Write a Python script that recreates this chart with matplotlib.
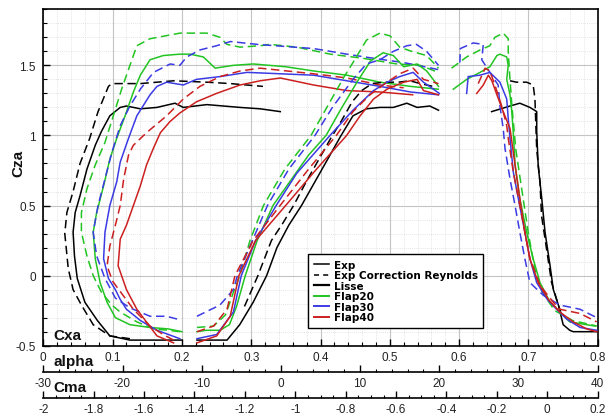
import matplotlib
matplotlib.use("Agg")
import matplotlib.pyplot as plt
from matplotlib.lines import Line2D
from matplotlib.ticker import MultipleLocator, FuncFormatter

plt.rcParams['font.family'] = ['Liberation Sans', 'DejaVu Sans']

# ---- polaire : Cza = f(Cxa) ----
polar_exp_cxa = [0.200, 0.160, 0.125, 0.096, 0.078, 0.060, 0.049, 0.045, 0.043, 0.046, 0.053, 0.063,
                 0.075, 0.084, 0.096, 0.111, 0.120, 0.140, 0.164, 0.190, 0.202, 0.236, 0.284, 0.313, 0.342]
polar_exp_cza = [-0.46, -0.46, -0.46, -0.43, -0.32, -0.19, -0.02, 0.14, 0.31, 0.45, 0.57, 0.76,
                 0.93, 1.03, 1.14, 1.20, 1.21, 1.19, 1.20, 1.23, 1.20, 1.22, 1.20, 1.19, 1.17]
polar_exp_re_cxa = [0.125, 0.096, 0.072, 0.055, 0.043, 0.036, 0.031, 0.034, 0.043, 0.053, 0.067, 0.079,
                    0.094, 0.099, 0.140, 0.188, 0.236, 0.270, 0.317]
polar_exp_re_cza = [-0.45, -0.43, -0.35, -0.21, -0.10, 0.05, 0.30, 0.45, 0.60, 0.80, 0.98, 1.17,
                    1.35, 1.37, 1.37, 1.39, 1.38, 1.37, 1.35]
polar_f20_cxa = [0.200, 0.180, 0.154, 0.125, 0.104, 0.092, 0.082, 0.075, 0.072, 0.077, 0.087, 0.096,
                 0.106, 0.118, 0.130, 0.140, 0.154, 0.173, 0.197, 0.212, 0.231, 0.248, 0.274, 0.303,
                 0.350, 0.390, 0.438, 0.486, 0.530, 0.570]
polar_f20_cza = [-0.40, -0.38, -0.37, -0.35, -0.30, -0.19, -0.05, 0.12, 0.31, 0.45, 0.64, 0.83,
                 0.98, 1.14, 1.31, 1.43, 1.54, 1.57, 1.58, 1.58, 1.56, 1.48, 1.50, 1.51,
                 1.49, 1.46, 1.43, 1.38, 1.35, 1.33]
polar_f20_re_cxa = [0.197, 0.180, 0.159, 0.135, 0.111, 0.099, 0.084, 0.072, 0.063, 0.055, 0.055, 0.063,
                    0.075, 0.089, 0.101, 0.113, 0.125, 0.135, 0.154, 0.197, 0.236, 0.255, 0.265, 0.284,
                    0.313, 0.327, 0.366, 0.414, 0.462, 0.510, 0.544, 0.570]
polar_f20_re_cza = [-0.40, -0.39, -0.38, -0.33, -0.26, -0.21, -0.12, 0.00, 0.14, 0.31, 0.45, 0.62,
                    0.79, 0.95, 1.14, 1.33, 1.50, 1.64, 1.69, 1.73, 1.73, 1.70, 1.65, 1.63,
                    1.64, 1.65, 1.63, 1.58, 1.55, 1.51, 1.50, 1.45]
polar_f30_cxa = [0.197, 0.164, 0.140, 0.120, 0.111, 0.104, 0.094, 0.087, 0.089, 0.096, 0.106, 0.111,
                 0.123, 0.135, 0.154, 0.164, 0.178, 0.202, 0.221, 0.255, 0.294, 0.342, 0.390, 0.438,
                 0.486, 0.530, 0.570]
polar_f30_cza = [-0.45, -0.39, -0.32, -0.24, -0.17, -0.10, -0.02, 0.12, 0.31, 0.50, 0.67, 0.81,
                 0.98, 1.14, 1.29, 1.35, 1.38, 1.36, 1.40, 1.42, 1.45, 1.44, 1.43, 1.39,
                 1.35, 1.31, 1.29]
polar_f30_re_cxa = [0.193, 0.178, 0.154, 0.125, 0.104, 0.089, 0.077, 0.072, 0.079, 0.089, 0.099, 0.111,
                    0.125, 0.140, 0.159, 0.183, 0.197, 0.207, 0.226, 0.250, 0.270, 0.308, 0.390, 0.438,
                    0.477, 0.520, 0.570]
polar_f30_re_cza = [-0.31, -0.29, -0.29, -0.23, -0.16, -0.02, 0.14, 0.31, 0.50, 0.69, 0.88, 1.07,
                    1.21, 1.33, 1.45, 1.51, 1.50, 1.56, 1.61, 1.64, 1.67, 1.65, 1.62, 1.58,
                    1.55, 1.52, 1.47]
polar_f40_cxa = [0.188, 0.164, 0.135, 0.120, 0.108, 0.111, 0.120, 0.130, 0.140, 0.149, 0.159, 0.169,
                 0.183, 0.197, 0.221, 0.250, 0.284, 0.313, 0.342, 0.390, 0.438, 0.486, 0.533]
polar_f40_cza = [-0.48, -0.43, -0.24, -0.10, 0.07, 0.26, 0.36, 0.50, 0.64, 0.79, 0.91, 1.02,
                 1.10, 1.16, 1.24, 1.30, 1.36, 1.39, 1.41, 1.36, 1.32, 1.31, 1.29]
polar_f40_re_cxa = [0.188, 0.173, 0.154, 0.130, 0.115, 0.100, 0.092, 0.096, 0.104, 0.111, 0.116, 0.123,
                    0.130, 0.149, 0.178, 0.202, 0.226, 0.255, 0.284, 0.313, 0.390, 0.438, 0.486, 0.520]
polar_f40_re_cza = [-0.46, -0.42, -0.36, -0.24, -0.14, -0.04, 0.07, 0.21, 0.36, 0.50, 0.69, 0.86,
                    0.93, 1.02, 1.14, 1.26, 1.35, 1.42, 1.46, 1.48, 1.44, 1.41, 1.36, 1.34]

# ---- portance : Cza = f(alpha) ----
lift_exp_alpha = [-10.6, -6.8, -5.2, -3.5, -1.8, -0.5, 1.0, 2.6, 4.2, 5.9, 7.6, 9.1, 10.8, 12.5,
                  14.2, 15.9, 17.2, 18.8, 19.9]
lift_exp_cza = [-0.46, -0.46, -0.35, -0.19, 0.00, 0.20, 0.36, 0.50, 0.66, 0.83, 1.00, 1.14, 1.19, 1.20,
                1.20, 1.23, 1.20, 1.21, 1.18]
lift_exp_re_alpha = [-4.6, -2.9, -1.2, 0.2, 1.6, 3.2, 4.8, 6.3, 7.6, 9.0, 10.2, 11.5, 13.0, 14.8,
                     16.3, 17.6, 19.2]
lift_exp_re_cza = [-0.22, 0.00, 0.25, 0.37, 0.50, 0.67, 0.83, 0.98, 1.10, 1.24, 1.32, 1.37, 1.38, 1.38,
                   1.39, 1.37, 1.35]
lift_f20_alpha = [-10.6, -9.4, -7.7, -6.5, -5.6, -4.5, -3.0, -1.0, 1.5, 3.5, 5.7, 7.5, 9.6, 11.3,
                  12.9, 14.2, 15.5, 17.2, 18.4, 19.9]
lift_f20_cza = [-0.40, -0.39, -0.39, -0.35, -0.22, 0.00, 0.25, 0.50, 0.70, 0.86, 1.00, 1.18, 1.38, 1.53,
                1.59, 1.57, 1.49, 1.51, 1.46, 1.35]
lift_f20_re_alpha = [-10.6, -8.5, -7.0, -6.0, -5.2, -3.9, -2.2, 0.5, 3.8, 6.0, 8.0, 9.1, 10.8, 12.5,
                     13.8, 15.0, 16.5, 18.4, 19.9]
lift_f20_re_cza = [-0.37, -0.36, -0.28, -0.12, 0.00, 0.25, 0.50, 0.76, 1.00, 1.22, 1.42, 1.52, 1.68, 1.73,
                   1.71, 1.63, 1.60, 1.57, 1.48]
lift_f30_alpha = [-10.6, -8.1, -6.0, -5.0, -3.2, -0.6, 2.0, 6.2, 9.1, 11.7, 13.4, 15.0, 16.7, 18.0, 20.0]
lift_f30_cza = [-0.45, -0.42, -0.26, 0.00, 0.25, 0.50, 0.73, 1.00, 1.18, 1.32, 1.38, 1.42, 1.45, 1.38, 1.30]
lift_f30_re_alpha = [-10.6, -7.7, -6.0, -5.5, -3.6, -1.7, 1.0, 4.3, 6.5, 9.1, 10.8, 12.5, 14.2, 15.9,
                     17.1, 18.4, 19.9]
lift_f30_re_cza = [-0.29, -0.21, -0.10, 0.00, 0.25, 0.50, 0.76, 1.00, 1.20, 1.40, 1.51, 1.54, 1.60, 1.64,
                   1.65, 1.60, 1.50]
lift_f40_alpha = [-10.6, -8.1, -6.4, -5.3, -3.2, 0.6, 4.5, 8.3, 10.0, 11.7, 13.4, 15.5, 17.2, 18.0, 19.9]
lift_f40_cza = [-0.48, -0.43, -0.29, 0.00, 0.25, 0.50, 0.76, 1.00, 1.14, 1.26, 1.33, 1.38, 1.40, 1.32, 1.29]
lift_f40_re_alpha = [-10.6, -8.5, -6.8, -5.8, -3.5, -0.1, 3.5, 7.0, 9.1, 11.25, 13.4, 15.0, 16.7,
                     18.0, 19.9]
lift_f40_re_cza = [-0.40, -0.36, -0.24, 0.00, 0.25, 0.50, 0.76, 1.00, 1.17, 1.29, 1.38, 1.44, 1.48,
                   1.40, 1.37]

# ---- moment : Cza = f(Cma) ----
mom_exp_cma = [-0.221, -0.148, -0.109, -0.069, -0.042, -0.042, -0.036, -0.022, -0.009, 0.011, 0.024,
               0.044, 0.063, 0.089, 0.103, 0.196]
mom_exp_cza = [1.17, 1.21, 1.23, 1.20, 1.17, 1.03, 0.78, 0.55, 0.31, 0.07, -0.10,
               -0.21, -0.35, -0.39, -0.40, -0.40]
mom_exp_re_cma = [-0.148, -0.122, -0.082, -0.056, -0.049, -0.045, -0.042, -0.029, -0.023, -0.003,
                  0.017, 0.037, 0.060]
mom_exp_re_cza = [1.39, 1.38, 1.38, 1.36, 1.26, 1.05, 0.90, 0.67, 0.43, 0.19, -0.05, -0.17, -0.30]
mom_f20_cma = [-0.373, -0.320, -0.267, -0.228, -0.200, -0.188, -0.161, -0.155, -0.161, -0.148, -0.141,
               -0.135, -0.128, -0.109, -0.082, -0.056, -0.029, 0.011, 0.050, 0.089, 0.156, 0.189]
mom_f20_cza = [1.33, 1.40, 1.45, 1.49, 1.57, 1.58, 1.56, 1.50, 1.40, 1.29, 1.17,
               1.02, 0.79, 0.55, 0.31, 0.12, -0.05, -0.19, -0.26, -0.33, -0.35, -0.36]
mom_f20_re_cma = [-0.380, -0.320, -0.267, -0.228, -0.208, -0.175, -0.155, -0.155, -0.150, -0.140,
                  -0.125, -0.100, -0.075, -0.050, -0.020, 0.030, 0.100, 0.197]
mom_f20_re_cza = [1.48, 1.56, 1.61, 1.64, 1.70, 1.73, 1.69, 1.60, 1.45, 1.20,
                  0.90, 0.60, 0.30, 0.05, -0.12, -0.25, -0.32, -0.36]
mom_f30_cma = [-0.320, -0.314, -0.267, -0.228, -0.188, -0.161, -0.155, -0.148, -0.135, -0.115, -0.089,
               -0.069, -0.042, 0.000, 0.037, 0.077, 0.130, 0.196]
mom_f30_cza = [1.30, 1.42, 1.43, 1.45, 1.38, 1.26, 1.12, 0.98, 0.74, 0.55, 0.31,
               0.12, -0.05, -0.17, -0.24, -0.31, -0.37, -0.39]
mom_f30_re_cma = [-0.347, -0.345, -0.294, -0.254, -0.260, -0.228, -0.195, -0.188, -0.175, -0.168,
                  -0.148, -0.128, -0.109, -0.089, -0.069, -0.016, 0.050, 0.130, 0.196]
mom_f30_re_cza = [1.52, 1.62, 1.66, 1.65, 1.54, 1.45, 1.36, 1.21, 1.05, 0.91,
                  0.69, 0.50, 0.31, 0.12, -0.05, -0.14, -0.21, -0.24, -0.30]
mom_f40_cma = [-0.280, -0.254, -0.234, -0.220, -0.200, -0.175, -0.148, -0.128, -0.109, -0.089, -0.069,
               -0.036, 0.004, 0.050, 0.103, 0.156, 0.196]
mom_f40_cza = [1.30, 1.36, 1.43, 1.39, 1.29, 1.17, 1.05, 0.79, 0.55, 0.31, 0.12,
               -0.05, -0.17, -0.26, -0.33, -0.38, -0.40]
mom_f40_re_cma = [-0.274, -0.247, -0.228, -0.208, -0.181, -0.161, -0.155, -0.135, -0.109, -0.089,
                  -0.069, -0.029, 0.024, 0.050, 0.130, 0.196]
mom_f40_re_cza = [1.37, 1.48, 1.46, 1.36, 1.21, 1.07, 0.98, 0.74, 0.50, 0.31,
                  0.12, -0.07, -0.19, -0.24, -0.27, -0.33]

legend_labels = ['Exp', 'Exp Correction Reynolds', 'Lisse', 'Flap20', 'Flap30', 'Flap40']

GREEN = '#22c422'
BLUE = '#3b3be4'
RED = '#cc2020'
LW = 1.1


def draw(axis, x, y, color, dashed=False):
    if dashed:
        axis.plot(x, y, color=color, lw=LW, ls='--', dashes=(5.5, 3))
    else:
        axis.plot(x, y, color=color, lw=LW)


def fmt(v, pos):
    return f'{round(v, 6) + 0:g}'


fig = plt.figure(figsize=(6.15, 4.14), dpi=100)
ax = fig.add_axes([43.3 / 615, 1 - 346.7 / 414, 554.4 / 615, 336.4 / 414])
ax2 = ax.twiny()
ax3 = ax.twiny()

# polaire
draw(ax, polar_exp_cxa, polar_exp_cza, 'black')
draw(ax, polar_exp_re_cxa, polar_exp_re_cza, 'black', True)
draw(ax, polar_f20_cxa, polar_f20_cza, GREEN)
draw(ax, polar_f20_re_cxa, polar_f20_re_cza, GREEN, True)
draw(ax, polar_f30_cxa, polar_f30_cza, BLUE)
draw(ax, polar_f30_re_cxa, polar_f30_re_cza, BLUE, True)
draw(ax, polar_f40_cxa, polar_f40_cza, RED)
draw(ax, polar_f40_re_cxa, polar_f40_re_cza, RED, True)

# portance
draw(ax2, lift_exp_alpha, lift_exp_cza, 'black')
draw(ax2, lift_exp_re_alpha, lift_exp_re_cza, 'black', True)
draw(ax2, lift_f20_alpha, lift_f20_cza, GREEN)
draw(ax2, lift_f20_re_alpha, lift_f20_re_cza, GREEN, True)
draw(ax2, lift_f30_alpha, lift_f30_cza, BLUE)
draw(ax2, lift_f30_re_alpha, lift_f30_re_cza, BLUE, True)
draw(ax2, lift_f40_alpha, lift_f40_cza, RED)
draw(ax2, lift_f40_re_alpha, lift_f40_re_cza, RED, True)

# moment
draw(ax3, mom_exp_cma, mom_exp_cza, 'black')
draw(ax3, mom_exp_re_cma, mom_exp_re_cza, 'black', True)
draw(ax3, mom_f20_cma, mom_f20_cza, GREEN)
draw(ax3, mom_f20_re_cma, mom_f20_re_cza, GREEN, True)
draw(ax3, mom_f30_cma, mom_f30_cza, BLUE)
draw(ax3, mom_f30_re_cma, mom_f30_re_cza, BLUE, True)
draw(ax3, mom_f40_cma, mom_f40_cza, RED)
draw(ax3, mom_f40_re_cma, mom_f40_re_cza, RED, True)

# axe principal (Cxa / Cza)
ax.set_xlim(0, 0.8)
ax.set_ylim(-0.5, 1.9)
ax.xaxis.set_major_locator(MultipleLocator(0.1))
ax.xaxis.set_minor_locator(MultipleLocator(0.02))
ax.yaxis.set_major_locator(MultipleLocator(0.5))
ax.yaxis.set_minor_locator(MultipleLocator(0.1))
ax.xaxis.set_major_formatter(FuncFormatter(fmt))
ax.yaxis.set_major_formatter(FuncFormatter(fmt))
ax.tick_params(which='both', direction='in', colors='black', labelcolor='#222222', labelsize=8.5)
ax.tick_params(which='major', length=5, width=1.0)
ax.tick_params(which='minor', length=3, width=0.8)
ax.tick_params(axis='x', pad=4)
ax.tick_params(axis='y', pad=5.5)
ax.grid(which='major', color='#c4c4c4', lw=0.8, ls='-')
ax.grid(which='minor', color='#dcdcdc', lw=0.6, ls=(0, (1, 1.5)))
ax.set_axisbelow(True)
for s in ax.spines.values():
    s.set_linewidth(1.2)

# axes secondaires (alpha, Cma) en bas
for axis, lim, major, minor, offset in [(ax2, (-30, 40), 10, 2, 18.7),
                                         (ax3, (-2, 0.2), 0.2, 0.05, 37.4)]:
    axis.set_xlim(*lim)
    axis.xaxis.set_ticks_position('bottom')
    axis.spines['bottom'].set_position(('outward', offset))
    axis.spines['bottom'].set_linewidth(1.2)
    for s in ['top', 'left', 'right']:
        axis.spines[s].set_visible(False)
    axis.xaxis.set_major_locator(MultipleLocator(major))
    axis.xaxis.set_minor_locator(MultipleLocator(minor))
    axis.xaxis.set_major_formatter(FuncFormatter(fmt))
    axis.tick_params(which='both', direction='in', colors='black', labelcolor='#222222', labelsize=8.5, pad=3.5)
    axis.tick_params(which='major', length=5, width=1.0)
    axis.tick_params(which='minor', length=2.5, width=0.8)

lab = dict(fontsize=11, fontweight='bold', color='#111111')
fig.text(18 / 615, 1 - 163 / 414, 'Cza', rotation=90, ha='center', va='center', **lab)
fig.text(53 / 615, 1 - 336 / 414, 'Cxa', ha='left', va='center', **lab)
fig.text(53 / 615, 1 - 362 / 414, 'alpha', ha='left', va='center', **lab)
fig.text(53 / 615, 1 - 388 / 414, 'Cma', ha='left', va='center', **lab)

handles = [Line2D([], [], color='black', lw=LW),
           Line2D([], [], color='black', lw=LW, ls='--', dashes=(3.3, 2.7)),
           Line2D([], [], color='black', lw=1.6),
           Line2D([], [], color=GREEN, lw=1.4),
           Line2D([], [], color=BLUE, lw=1.4),
           Line2D([], [], color=RED, lw=1.4)]
leg = ax3.legend(handles, legend_labels, loc='lower left', bbox_to_anchor=(0.4775, 0.0526),
                 borderaxespad=0, frameon=True, fancybox=False, edgecolor='black', framealpha=1,
                 prop=dict(family='DejaVu Sans', size=7.5, weight='bold'), handlelength=1.5,
                 handletextpad=0.4, labelspacing=0.05, borderpad=0.55)
leg.get_frame().set_linewidth(1.0)

fig.savefig('out.png', dpi=100)
